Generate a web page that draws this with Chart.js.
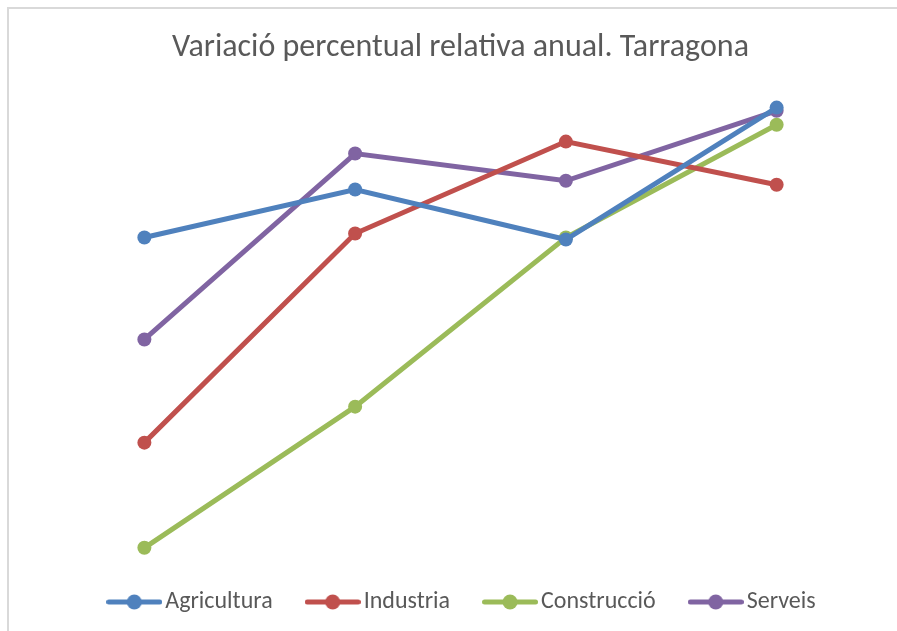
<!DOCTYPE html>
<html>
<head>
<meta charset="utf-8">
<script src="https://cdn.jsdelivr.net/npm/chart.js@4/dist/chart.umd.min.js"></script>
<style>
  html, body { margin: 0; padding: 0; background: #fff; }
  #wrap { position: relative; width: 897px; height: 631px; overflow: hidden; }
  #frame { position: absolute; left: 7px; top: 7px; width: 900px; height: 640px; border-left: 2px solid #d9d9d9; border-top: 2px solid #d9d9d9; }
  canvas { position: absolute; left: 0; top: 0; }
</style>
</head>
<body>
<div id="wrap">
  <div id="frame"></div>
  <canvas id="chart" width="897" height="631"></canvas>
</div>
<script>
const years = ['1', '2', '3', '4'];
const agricultura = [2.83, 4.03, 2.78, 6.08];
const industria = [-2.3, 2.93, 5.23, 4.15];
const construccio = [-4.93, -1.4, 2.83, 5.65];
const serveis = [0.28, 4.93, 4.25, 6.0];

const colors = {
  agricultura: '#4f81bd',
  industria: '#c0504d',
  construccio: '#9bbb59',
  serveis: '#8064a2'
};

const FONT = 'Carlito, "Open Sans", sans-serif';

// legend marker: line with a dot in the middle
function legendIcon(color) {
  const c = document.createElement('canvas');
  c.width = 56;
  c.height = 16;
  const ctx = c.getContext('2d');
  ctx.strokeStyle = color;
  ctx.lineWidth = 5;
  ctx.lineCap = 'round';
  ctx.beginPath();
  ctx.moveTo(2.5, 8);
  ctx.lineTo(53.5, 8);
  ctx.stroke();
  ctx.fillStyle = color;
  ctx.beginPath();
  ctx.arc(28, 8, 7.5, 0, Math.PI * 2);
  ctx.fill();
  return c;
}

function makeSet(label, data, color) {
  return {
    label: label,
    data: data,
    borderColor: color,
    backgroundColor: color,
    borderWidth: 5,
    pointRadius: 7,
    pointHoverRadius: 7,
    pointBorderWidth: 0,
    tension: 0,
    clip: false,
    legendIcon: legendIcon(color)
  };
}

// legend sits a little right of centre in the original
const legendNudge = {
  id: 'legendNudge',
  afterLayout(chart) {
    chart.legend.left += 5;
    chart.legend.right += 5;
  }
};

new Chart(document.getElementById('chart'), {
  type: 'line',
  data: {
    labels: years,
    datasets: [
      makeSet('Agricultura', agricultura, colors.agricultura),
      makeSet('Industria', industria, colors.industria),
      makeSet('Construcció', construccio, colors.construccio),
      makeSet('Serveis', serveis, colors.serveis)
    ]
  },
  plugins: [legendNudge],
  options: {
    responsive: false,
    animation: false,
    layout: {
      padding: { left: 39, right: 15, top: 0, bottom: 7 }
    },
    plugins: {
      title: {
        display: true,
        text: 'Variació percentual relativa anual. Tarragona',
        color: '#595959',
        font: { family: FONT, size: 32, weight: 'normal' },
        padding: { top: 29, bottom: 28 }
      },
      legend: {
        position: 'bottom',
        labels: {
          usePointStyle: true,
          pointStyleWidth: 38,
          color: '#595959',
          font: { family: FONT, size: 24 },
          padding: 41,
          generateLabels: (chart) => chart.data.datasets.map((ds, i) => ({
            text: ds.label,
            pointStyle: ds.legendIcon,
            fontColor: '#595959',
            datasetIndex: i,
            hidden: false,
            lineWidth: 0
          }))
        }
      },
      tooltip: { enabled: false }
    },
    scales: {
      x: { display: false, offset: true },
      y: { display: false, min: -4.96, max: 6.385 }
    }
  }
});
</script>
</body>
</html>
